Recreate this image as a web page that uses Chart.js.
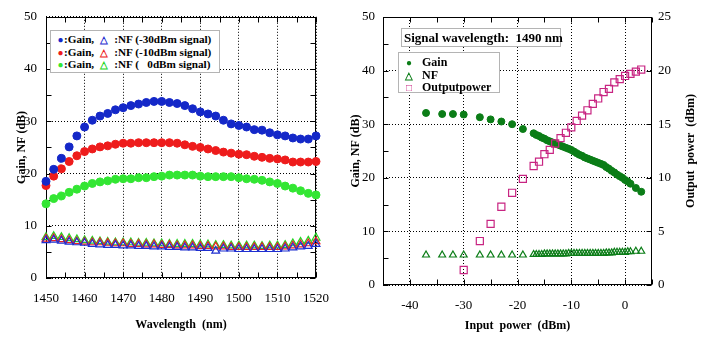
<!DOCTYPE html>
<html>
<head>
<meta charset="utf-8">
<script src="https://cdn.jsdelivr.net/npm/chart.js"></script>
<style>
body{margin:0;background:#fff;width:701px;height:344px;position:relative;overflow:hidden;font-family:"Liberation Serif",serif}
canvas{position:absolute;top:0}
.box{position:absolute;box-sizing:border-box;background:#fff;border:1px solid #b4b4b4;font-weight:bold;font-size:12px;white-space:nowrap;color:#000;line-height:12.5px}
.row{position:relative;height:12.5px;white-space:pre}
.m{display:inline-block;text-align:center;font-size:10px}
.vt{position:absolute;font-weight:bold;font-size:12px;white-space:pre;transform:rotate(-90deg);transform-origin:center center;text-align:center;width:140px;height:14px;line-height:14px}
</style>
</head>
<body>
<canvas id="left" width="345" height="344" style="left:0"></canvas>
<canvas id="right" width="361" height="344" style="left:340px"></canvas>

<div class="box" style="left:50px;top:30px;width:170px;height:43px;padding:2px 0 0 6px;font-size:11.2px"><div class="row"><span class="m" style="width:7px;color:#1428c8">●</span>:Gain,<span class="m" style="width:20px;color:#1f2fd0">△</span>:NF (-30dBm signal)</div><div class="row"><span class="m" style="width:7px;color:#ee1c1c">●</span>:Gain,<span class="m" style="width:20px;color:#ee2222">△</span>:NF (-10dBm signal)</div><div class="row"><span class="m" style="width:7px;color:#33e633">●</span>:Gain,<span class="m" style="width:20px;color:#22d622">△</span>:NF (   0dBm signal)</div></div>

<div class="box" style="left:401px;top:28px;width:160px;height:19px;font-size:13px;line-height:17px;padding-left:2px;white-space:pre">Signal wavelength:  1490 nm</div>

<div class="box" style="left:398px;top:52px;width:102px;height:41px;padding:3px 0 0 3px"><div class="row"><span class="m" style="width:14px;margin-right:6px;color:#0b7d17">●</span>Gain</div><div class="row"><span class="m" style="width:14px;margin-right:6px;color:#0b7d17">△</span>NF</div><div class="row"><span class="m" style="width:14px;margin-right:6px;color:#c82582">□</span>Outputpower</div></div>

<div class="vt" style="left:620px;top:144px">Output  power  (dBm)</div>

<script>
// ---- left chart: gain / NF vs wavelength ----
var wavelength = [1450,1452,1454,1456,1458,1460,1462,1464,1466,1468,1470,1472,1474,1476,1478,1480,1482,1484,
                  1486,1488,1490,1492,1494,1496,1498,1500,1502,1504,1506,1508,1510,1512,1514,1516,1518,1520];
var gainM30 = [18.5,20.8,22.9,25.1,27.2,28.9,30.2,31.0,31.5,32.2,32.6,33.0,33.3,33.6,33.8,33.8,33.6,33.4,
               33.0,32.4,31.8,31.4,31.0,30.2,29.5,29.2,28.9,28.4,28.3,27.8,27.4,27.2,26.8,26.6,26.6,27.2];
var gainM10 = [17.7,19.5,20.9,22.3,23.4,24.2,24.7,25.1,25.3,25.6,25.8,25.8,25.9,25.9,25.9,25.9,25.9,25.8,
               25.5,25.2,25.0,24.7,24.4,24.1,23.9,23.7,23.6,23.3,23.1,22.9,22.8,22.6,22.2,22.2,22.2,22.3];
var gain0   = [14.2,15.2,15.7,16.4,17.0,17.6,18.1,18.4,18.6,18.9,19.0,19.0,19.2,19.2,19.4,19.5,19.7,19.7,
               19.7,19.7,19.5,19.4,19.4,19.4,19.4,19.2,19.0,18.9,18.7,18.4,18.1,17.6,17.2,16.7,16.2,15.9];
var nfM30 = [7.2,7.3,7.1,6.9,6.8,6.7,6.5,6.4,6.3,6.3,6.2,6.2,6.1,6.1,6.0,6.0,5.9,5.9,
             5.8,5.8,5.7,5.7,5.2,5.6,5.6,5.5,5.5,5.5,5.5,5.5,5.5,5.6,5.8,6.0,6.1,6.5];
var nfM10 = [7.5,7.6,7.4,7.2,7.0,6.9,6.8,6.8,6.7,6.6,6.6,6.5,6.5,6.4,6.4,6.3,6.3,6.2,
             6.2,6.2,6.1,6.1,6.0,6.0,5.9,5.9,5.9,5.9,5.9,5.9,5.9,6.0,6.2,6.4,6.6,7.0];
var nf0   = [7.8,8.0,7.8,7.6,7.4,7.2,7.1,7.0,6.9,6.8,6.8,6.8,6.7,6.7,6.6,6.6,6.5,6.5,
             6.5,6.5,6.4,6.4,6.3,6.3,6.2,6.2,6.2,6.2,6.1,6.2,6.2,6.3,6.6,6.9,7.1,7.7];

// ---- right chart: gain / NF / output power vs input power (1490 nm) ----
var inputTicks = [-40,-30,-20,-10,0];
var inputPower = [-37,-34,-32,-30,-27,-25,-23,-21,-19,
                  -17,-16.5,-16,-15.5,-15,-14.5,-14,-13.5,-13,-12.5,-12,-11.5,-11,-10.5,-10,-9.5,-9,-8.5,-8,
                  -7.5,-7,-6.5,-6,-5.5,-5,-4.5,-4,-3.5,-3,-2.5,-2,-1.5,-1,-0.5,0,0.5,1,2,3];
var gainRight = [32.1,31.9,31.9,31.8,31.3,30.9,30.5,30.0,29.1,
                 28.3,28.0,27.8,27.5,27.3,27.0,26.8,26.6,26.4,26.2,26.0,25.8,25.6,25.4,25.2,24.9,24.6,24.3,24.1,
                 23.8,23.6,23.4,23.2,23.0,22.8,22.6,22.4,22.0,21.7,21.3,21.0,20.6,20.3,20.0,19.6,19.3,18.9,18.1,17.4];
var nfRight = [5.6,5.6,5.6,5.6,5.6,5.6,5.6,5.6,5.6,
               5.7,5.7,5.7,5.7,5.8,5.8,5.8,5.8,5.8,5.8,5.8,5.8,5.8,5.9,5.9,5.9,5.9,5.9,5.9,
               5.9,5.9,5.9,5.9,5.9,5.9,5.9,5.9,6.0,6.0,6.0,6.1,6.1,6.1,6.1,6.1,6.2,6.2,6.3,6.3];
var outInput = [-30,-27,-25,-23,-21,-19,-17,-16,-15,-14,-13,-12,-11,-10,-9,-8,-7,-6,-5,-4,-3,-2,-1,0,1,2,3];
var outPower = [1.4,4.1,5.7,7.3,8.6,9.9,11.1,11.5,12.2,12.6,13.2,13.7,14.2,14.7,15.3,15.8,16.3,16.9,
                17.4,18.0,18.3,18.9,19.2,19.5,19.7,19.9,20.1];

Chart.defaults.font.family = '"Liberation Serif", serif';
Chart.defaults.color = '#000';

function pts(xs, ys){
  var out = [];
  for (var i = 0; i < xs.length; i++) out.push({x: xs[i], y: ys[i]});
  return out;
}

function marks(label, xs, ys, style, color, radius, fill, axis){
  return {
    label: label,
    data: pts(xs, ys),
    pointStyle: style,
    pointRadius: radius,
    pointBorderWidth: fill ? 1 : 1.2,
    pointBorderColor: color,
    pointBackgroundColor: fill ? color : 'rgba(0,0,0,0)',
    showLine: false,
    clip: false,
    yAxisID: axis || 'y'
  };
}

// frame and inward tick marks
var frame = {
  id: 'frame',
  beforeDatasetsDraw: function(chart, args, opts){
    var ctx = chart.ctx, a = chart.chartArea, len = 5;
    ctx.save();
    ctx.strokeStyle = '#000';
    ctx.lineWidth = 1;
    var l = Math.round(a.left) + 0.5, r = Math.round(a.right) - 0.5;
    var t = Math.round(a.top) + 0.5, b = Math.round(a.bottom) - 0.5;
    ctx.strokeRect(l, t, r - l, b - t);
    (opts.ticks || []).forEach(function(spec){
      var s = chart.scales[spec.id];
      for (var v = s.min; v <= s.max + 1e-9; v += spec.step){
        var p = Math.round(s.getPixelForValue(v)) + 0.5;
        spec.sides.forEach(function(side){
          ctx.beginPath();
          if (side === 'bottom'){ ctx.moveTo(p, b); ctx.lineTo(p, b - len); }
          if (side === 'top'){ ctx.moveTo(p, t); ctx.lineTo(p, t + len); }
          if (side === 'left'){ ctx.moveTo(l, p); ctx.lineTo(l + len, p); }
          if (side === 'right'){ ctx.moveTo(r, p); ctx.lineTo(r - len, p); }
          ctx.stroke();
        });
      }
    });
    ctx.restore();
  }
};

var tickFont = {size: 13};
var titleFont = {size: 12, weight: 'bold'};
var dotted = {display: false, dash: [1, 2]};
var plain = function(v){ return String(v); };

new Chart(document.getElementById('left'), {
  type: 'scatter',
  data: {
    datasets: [
      marks('NF -30', wavelength, nfM30, 'triangle', '#1f2fd0', 4.5, false),
      marks('NF -10', wavelength, nfM10, 'triangle', '#ee2222', 4.5, false),
      marks('NF 0', wavelength, nf0, 'triangle', '#22d622', 4.5, false),
      marks('Gain -30', wavelength, gainM30, 'circle', '#1428c8', 4, true),
      marks('Gain -10', wavelength, gainM10, 'circle', '#ee1c1c', 4, true),
      marks('Gain 0', wavelength, gain0, 'circle', '#33e633', 4, true)
    ]
  },
  options: {
    responsive: false,
    animation: false,
    layout: {padding: {top: 12, right: 29, bottom: 8, left: 0}},
    plugins: {
      legend: {display: false},
      tooltip: {enabled: false},
      frame: {ticks: [
        {id: 'x', step: 5, sides: ['bottom', 'top']},
        {id: 'y', step: 5, sides: ['left', 'right']}
      ]}
    },
    scales: {
      x: {
        type: 'linear', min: 1450, max: 1520,
        ticks: {stepSize: 10, font: tickFont, padding: 13, maxRotation: 0, autoSkip: false, callback: plain},
        grid: {color: '#000', drawTicks: false},
        border: dotted,
        title: {display: true, text: 'Wavelength  (nm)', font: titleFont, padding: {top: 0, bottom: 4}},
        afterFit: function(s){ s.height = 58; }
      },
      y: {
        min: 0, max: 50,
        ticks: {stepSize: 10, font: tickFont, padding: 9, callback: plain},
        grid: {color: '#000', drawTicks: false},
        border: dotted,
        title: {display: true, text: 'Gain, NF (dB)', font: titleFont, padding: {top: 15, bottom: 0}},
        afterFit: function(s){ s.width = 46; }
      }
    }
  },
  plugins: [frame]
});

new Chart(document.getElementById('right'), {
  type: 'scatter',
  data: {
    datasets: [
      marks('Outputpower', outInput, outPower, 'rect', '#c82582', 5, false, 'y2'),
      marks('NF', inputPower, nfRight, 'triangle', '#0b7d17', 4, false),
      marks('Gain', inputPower, gainRight, 'circle', '#0b7d17', 3.5, true)
    ]
  },
  options: {
    responsive: false,
    animation: false,
    layout: {padding: {top: 17, right: 0, bottom: 7, left: 0}},
    plugins: {
      legend: {display: false},
      tooltip: {enabled: false},
      frame: {ticks: [
        {id: 'x', step: 5, sides: ['bottom', 'top']},
        {id: 'y', step: 5, sides: ['left']},
        {id: 'y2', step: 5, sides: ['right']}
      ]}
    },
    scales: {
      x: {
        type: 'linear', min: -45, max: 5,
        ticks: {font: tickFont, padding: 13, maxRotation: 0, autoSkip: false, callback: plain},
        afterBuildTicks: function(s){ s.ticks = inputTicks.map(function(v){ return {value: v}; }); },
        grid: {color: '#000', drawTicks: false},
        border: dotted,
        title: {display: true, text: 'Input  power  (dBm)', font: titleFont, padding: {top: 0, bottom: 4}},
        afterFit: function(s){ s.height = 52; }
      },
      y: {
        position: 'left', min: 0, max: 50,
        ticks: {stepSize: 10, font: tickFont, padding: 8, callback: plain},
        grid: {color: '#000', drawTicks: false},
        border: dotted,
        title: {display: true, text: 'Gain, NF (dB)', font: titleFont, padding: {top: 9, bottom: 0}},
        afterFit: function(s){ s.width = 43; }
      },
      y2: {
        position: 'right', min: 0, max: 25,
        ticks: {stepSize: 5, font: tickFont, padding: 6, callback: plain},
        grid: {display: false, drawTicks: false},
        border: {display: false},
        afterFit: function(s){ s.width = 49; }
      }
    }
  },
  plugins: [frame]
});
</script>
</body>
</html>
